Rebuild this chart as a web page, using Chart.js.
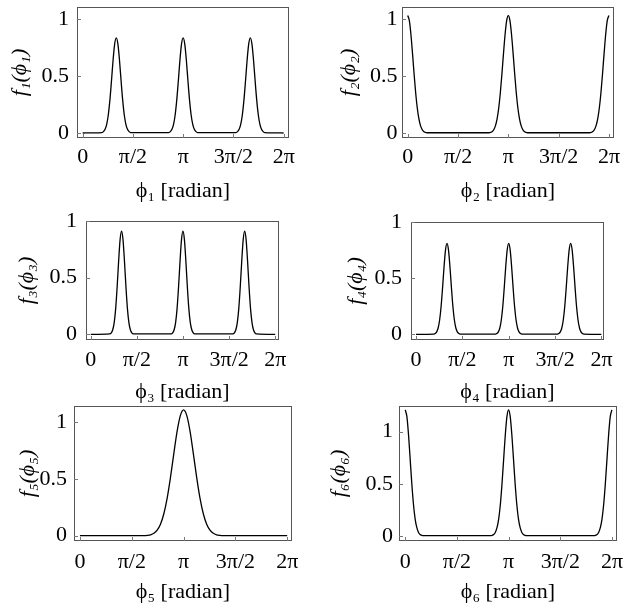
<!doctype html>
<html lang="en">
<head>
<meta charset="utf-8">
<title>f(phi) panels</title>
<script src="https://cdn.jsdelivr.net/npm/chart.js@4.4.1/dist/chart.umd.min.js"></script>
<style>
    body { margin: 0; background: #fff; }
    #wrap { position: relative; width: 629px; height: 611px; overflow: hidden; }
    #wrap canvas { position: absolute; }
</style>
</head>
<body>
<div id="wrap">
    <canvas id="c1"></canvas>
    <canvas id="c2"></canvas>
    <canvas id="c3"></canvas>
    <canvas id="c4"></canvas>
    <canvas id="c5"></canvas>
    <canvas id="c6"></canvas>
</div>
<script>
    // values (x in radians)
    const phi1 = [0,
        0.60, 0.65, 0.70, 0.75, 0.80, 0.85, 0.90, 0.95, 1.00, 1.05, 1.10, 1.15, 1.20, 1.25, 1.30, 1.35, 1.40, 1.45, 1.50,
        2.69, 2.74, 2.79, 2.84, 2.89, 2.94, 2.99, 3.04, 3.09, 3.14, 3.19, 3.24, 3.29, 3.34, 3.39, 3.44, 3.49, 3.54, 3.59,
        4.79, 4.84, 4.89, 4.94, 4.99, 5.04, 5.09, 5.14, 5.19, 5.24, 5.29, 5.34, 5.39, 5.44, 5.49, 5.54, 5.59, 5.64, 5.69,
        6.28];
    const f1 = [0,
        0.004, 0.012, 0.032, 0.076, 0.158, 0.288, 0.458, 0.640, 0.782, 0.835, 0.782, 0.640, 0.458, 0.288, 0.158, 0.076, 0.032, 0.012, 0.004,
        0.004, 0.012, 0.032, 0.076, 0.158, 0.288, 0.458, 0.640, 0.782, 0.835, 0.782, 0.640, 0.458, 0.288, 0.158, 0.076, 0.032, 0.012, 0.004,
        0.004, 0.012, 0.032, 0.076, 0.158, 0.288, 0.458, 0.640, 0.782, 0.835, 0.782, 0.640, 0.458, 0.288, 0.158, 0.076, 0.032, 0.012, 0.004,
        0];

    const phi2 = [0.00, 0.05, 0.10, 0.15, 0.20, 0.25, 0.30, 0.35, 0.40, 0.45, 0.50, 0.55, 0.60,
        2.54, 2.59, 2.64, 2.69, 2.74, 2.79, 2.84, 2.89, 2.94, 2.99, 3.04, 3.09, 3.14, 3.19, 3.24, 3.29, 3.34, 3.39, 3.44, 3.49, 3.54, 3.59, 3.64, 3.69, 3.74,
        5.68, 5.73, 5.78, 5.83, 5.88, 5.93, 5.98, 6.03, 6.08, 6.13, 6.18, 6.23, 6.28];
    const f2 = [1.03, 0.987, 0.866, 0.698, 0.515, 0.349, 0.217, 0.124, 0.065, 0.031, 0.013, 0.005, 0.002,
        0.002, 0.005, 0.013, 0.031, 0.065, 0.124, 0.217, 0.349, 0.515, 0.698, 0.866, 0.987, 1.03, 0.987, 0.866, 0.698, 0.515, 0.349, 0.217, 0.124, 0.065, 0.031, 0.013, 0.005, 0.002,
        0.002, 0.005, 0.013, 0.031, 0.065, 0.124, 0.217, 0.349, 0.515, 0.698, 0.866, 0.987, 1.03];

    const phi3 = [0,
        0.65, 0.70, 0.75, 0.80, 0.85, 0.90, 0.95, 1.00, 1.05, 1.10, 1.15, 1.20, 1.25, 1.30, 1.35, 1.40, 1.45,
        2.74, 2.79, 2.84, 2.89, 2.94, 2.99, 3.04, 3.09, 3.14, 3.19, 3.24, 3.29, 3.34, 3.39, 3.44, 3.49, 3.54,
        4.84, 4.89, 4.94, 4.99, 5.04, 5.09, 5.14, 5.19, 5.24, 5.29, 5.34, 5.39, 5.44, 5.49, 5.54, 5.59, 5.64,
        6.28];
    const f3 = [0,
        0.004, 0.013, 0.040, 0.104, 0.227, 0.417, 0.643, 0.834, 0.91, 0.834, 0.643, 0.417, 0.227, 0.104, 0.040, 0.013, 0.004,
        0.004, 0.013, 0.040, 0.104, 0.227, 0.417, 0.643, 0.834, 0.91, 0.834, 0.643, 0.417, 0.227, 0.104, 0.040, 0.013, 0.004,
        0.004, 0.013, 0.040, 0.104, 0.227, 0.417, 0.643, 0.834, 0.91, 0.834, 0.643, 0.417, 0.227, 0.104, 0.040, 0.013, 0.004,
        0];

    const phi4 = [0,
        0.60, 0.65, 0.70, 0.75, 0.80, 0.85, 0.90, 0.95, 1.00, 1.05, 1.10, 1.15, 1.20, 1.25, 1.30, 1.35, 1.40, 1.45, 1.50,
        2.69, 2.74, 2.79, 2.84, 2.89, 2.94, 2.99, 3.04, 3.09, 3.14, 3.19, 3.24, 3.29, 3.34, 3.39, 3.44, 3.49, 3.54, 3.59,
        4.79, 4.84, 4.89, 4.94, 4.99, 5.04, 5.09, 5.14, 5.19, 5.24, 5.29, 5.34, 5.39, 5.44, 5.49, 5.54, 5.59, 5.64, 5.69,
        6.28];
    const f4 = [0,
        0.002, 0.007, 0.022, 0.057, 0.128, 0.248, 0.416, 0.602, 0.752, 0.81, 0.752, 0.602, 0.416, 0.248, 0.128, 0.057, 0.022, 0.007, 0.002,
        0.002, 0.007, 0.022, 0.057, 0.128, 0.248, 0.416, 0.602, 0.752, 0.81, 0.752, 0.602, 0.416, 0.248, 0.128, 0.057, 0.022, 0.007, 0.002,
        0.002, 0.007, 0.022, 0.057, 0.128, 0.248, 0.416, 0.602, 0.752, 0.81, 0.752, 0.602, 0.416, 0.248, 0.128, 0.057, 0.022, 0.007, 0.002,
        0];

    const phi5 = [0, 1.94, 2.04, 2.14, 2.24, 2.34, 2.44, 2.54, 2.64, 2.74, 2.84, 2.94, 3.04, 3.14,
        3.24, 3.34, 3.44, 3.54, 3.64, 3.74, 3.84, 3.94, 4.04, 4.14, 4.24, 4.34, 6.28];
    const f5 = [0, 0.001, 0.003, 0.008, 0.021, 0.049, 0.101, 0.191, 0.327, 0.508, 0.715, 0.914, 1.057, 1.11,
        1.057, 0.914, 0.715, 0.508, 0.327, 0.191, 0.101, 0.049, 0.021, 0.008, 0.003, 0.001, 0];

    const phi6 = [0.00, 0.05, 0.10, 0.15, 0.20, 0.25, 0.30, 0.35, 0.40, 0.45, 0.50, 0.55,
        2.59, 2.64, 2.69, 2.74, 2.79, 2.84, 2.89, 2.94, 2.99, 3.04, 3.09, 3.14, 3.19, 3.24, 3.29, 3.34, 3.39, 3.44, 3.49, 3.54, 3.59, 3.64, 3.69,
        5.73, 5.78, 5.83, 5.88, 5.93, 5.98, 6.03, 6.08, 6.13, 6.18, 6.23, 6.28];
    const f6 = [1.21, 1.145, 0.969, 0.734, 0.497, 0.301, 0.163, 0.080, 0.035, 0.013, 0.005, 0.001,
        0.001, 0.005, 0.013, 0.035, 0.080, 0.163, 0.301, 0.497, 0.734, 0.969, 1.145, 1.21, 1.145, 0.969, 0.734, 0.497, 0.301, 0.163, 0.080, 0.035, 0.013, 0.005, 0.001,
        0.001, 0.005, 0.013, 0.035, 0.080, 0.163, 0.301, 0.497, 0.734, 0.969, 1.145, 1.21];

    const xTickVals = [0, Math.PI / 2, Math.PI, 3 * Math.PI / 2, 2 * Math.PI];
    const xTickLabels = ['0', 'π/2', 'π', '3π/2', '2π'];
    const yTickVals = [0, 0.5, 1];
    const yTickLabels = ['0', '0.5', '1'];

    const xTitles = ['ϕ₁ [radian]', 'ϕ₂ [radian]', 'ϕ₃ [radian]', 'ϕ₄ [radian]', 'ϕ₅ [radian]', 'ϕ₆ [radian]'];
    const yTitles = ['f₁(ϕ₁)', 'f₂(ϕ₂)', 'f₃(ϕ₃)', 'f₄(ϕ₄)', 'f₅(ϕ₅)', 'f₆(ϕ₆)'];

    // canvas frame, plot box [l, t, r, b], axis ranges and label gaps (page px)
    const panels = [
        { xs: phi1, ys: f1, left: 0, top: 0, w: 314, h: 208, box: [77, 7, 289, 138], xr: [-0.178, 6.449], yr: [-0.044, 1.105], ytPad: 6.8, xtPad: 3.2, xtick: 5.9, ytick: 8 },
        { xs: phi2, ys: f2, left: 314, top: 0, w: 315, h: 208, box: [402, 7, 614, 138], xr: [-0.178, 6.439], yr: [-0.044, 1.105], ytPad: 21.8, xtPad: 3.2, xtick: 5.9, ytick: 4.5 },
        { xs: phi3, ys: f3, left: 0, top: 208, w: 314, h: 204, box: [86, 221, 279, 340], xr: [-0.16, 6.409], yr: [-0.05, 1.0], ytPad: 14.3, xtPad: 6.7, xtick: 7.4, ytick: 9 },
        { xs: phi4, ys: f4, left: 314, top: 208, w: 315, h: 204, box: [411, 222, 604, 340], xr: [-0.17, 6.37], yr: [-0.05, 1.0], ytPad: 28.8, xtPad: 6.7, xtick: 7.4, ytick: 9 },
        { xs: phi5, ys: f5, left: 0, top: 398, w: 314, h: 213, box: [74, 406, 292, 541], xr: [-0.18, 6.425], yr: [-0.047, 1.144], ytPad: 14.8, xtPad: 5.6, xtick: 7.9, ytick: 7 },
        { xs: phi6, ys: f6, left: 314, top: 398, w: 315, h: 213, box: [399, 406, 617, 541], xr: [-0.19, 6.435], yr: [-0.05, 1.247], ytPad: 11.8, xtPad: 5.6, xtick: 7.9, ytick: 6 }
    ];

    const serif = "'Liberation Serif', 'DejaVu Serif', serif";

    // box round the plot plus short inward tick marks
    const framePlugin = {
        id: 'frame',
        afterDatasetsDraw(chart) {
            const { ctx, chartArea: a, scales: { x, y } } = chart;
            ctx.save();
            ctx.strokeStyle = '#555';
            ctx.lineWidth = 1;
            ctx.strokeRect(a.left + 0.5, a.top + 0.5, a.width - 1, a.height - 1);
            ctx.strokeStyle = '#777';
            ctx.beginPath();
            x.ticks.forEach(t => {
                const px = Math.round(x.getPixelForValue(t.value)) + 0.5;
                ctx.moveTo(px, a.bottom);
                ctx.lineTo(px, a.bottom - 4);
            });
            y.ticks.forEach(t => {
                const py = Math.round(y.getPixelForValue(t.value)) + 0.5;
                ctx.moveTo(a.left, py);
                ctx.lineTo(a.left + 4, py);
            });
            ctx.stroke();
            ctx.restore();
        }
    };

    panels.forEach((p, k) => {
        const el = document.getElementById('c' + (k + 1));
        el.width = p.w;
        el.height = p.h;
        el.style.left = p.left + 'px';
        el.style.top = p.top + 'px';

        const font = { family: serif, size: 22 };

        new Chart(el, {
            type: 'line',
            data: {
                datasets: [{
                    data: p.xs.map((x, i) => ({ x: x, y: p.ys[i] })),
                    borderColor: '#000',
                    borderWidth: 1.3,
                    pointRadius: 0,
                    cubicInterpolationMode: 'monotone',
                    fill: false
                }]
            },
            plugins: [framePlugin],
            options: {
                responsive: false,
                animation: false,
                devicePixelRatio: 1,
                layout: { padding: { left: 0, bottom: 0, top: p.box[1] - p.top, right: p.left + p.w - p.box[2] } },
                plugins: { legend: { display: false }, tooltip: { enabled: false } },
                scales: {
                    x: {
                        type: 'linear',
                        min: p.xr[0],
                        max: p.xr[1],
                        grid: { display: false, drawTicks: false, tickLength: 0 },
                        border: { display: false },
                        afterBuildTicks: s => { s.ticks = xTickVals.map(v => ({ value: v })); },
                        afterFit: s => {
                            s.height = p.top + p.h - p.box[3];
                            s.paddingLeft = 0; s.paddingRight = 0; s.paddingTop = 0; s.paddingBottom = 0;
                        },
                        ticks: {
                            autoSkip: false, maxRotation: 0, minRotation: 0,
                            padding: p.xtick, color: '#000', font: font,
                            callback: (v, i) => xTickLabels[i]
                        },
                        title: {
                            display: true, text: xTitles[k], color: '#000', font: font,
                            padding: { top: 0, bottom: p.xtPad }
                        }
                    },
                    y: {
                        type: 'linear',
                        min: p.yr[0],
                        max: p.yr[1],
                        grid: { display: false, drawTicks: false, tickLength: 0 },
                        border: { display: false },
                        afterBuildTicks: s => { s.ticks = yTickVals.map(v => ({ value: v })); },
                        afterFit: s => {
                            s.width = p.box[0] - p.left;
                            s.paddingLeft = 0; s.paddingRight = 0; s.paddingTop = 0; s.paddingBottom = 0;
                        },
                        ticks: {
                            padding: p.ytick, color: '#000', font: font,
                            callback: (v, i) => yTickLabels[i]
                        },
                        title: {
                            display: true, text: yTitles[k], color: '#000',
                            font: { family: serif, size: 22, style: 'italic' },
                            padding: { top: p.ytPad, bottom: 0 }
                        }
                    }
                }
            }
        });
    });
</script>
</body>
</html>
